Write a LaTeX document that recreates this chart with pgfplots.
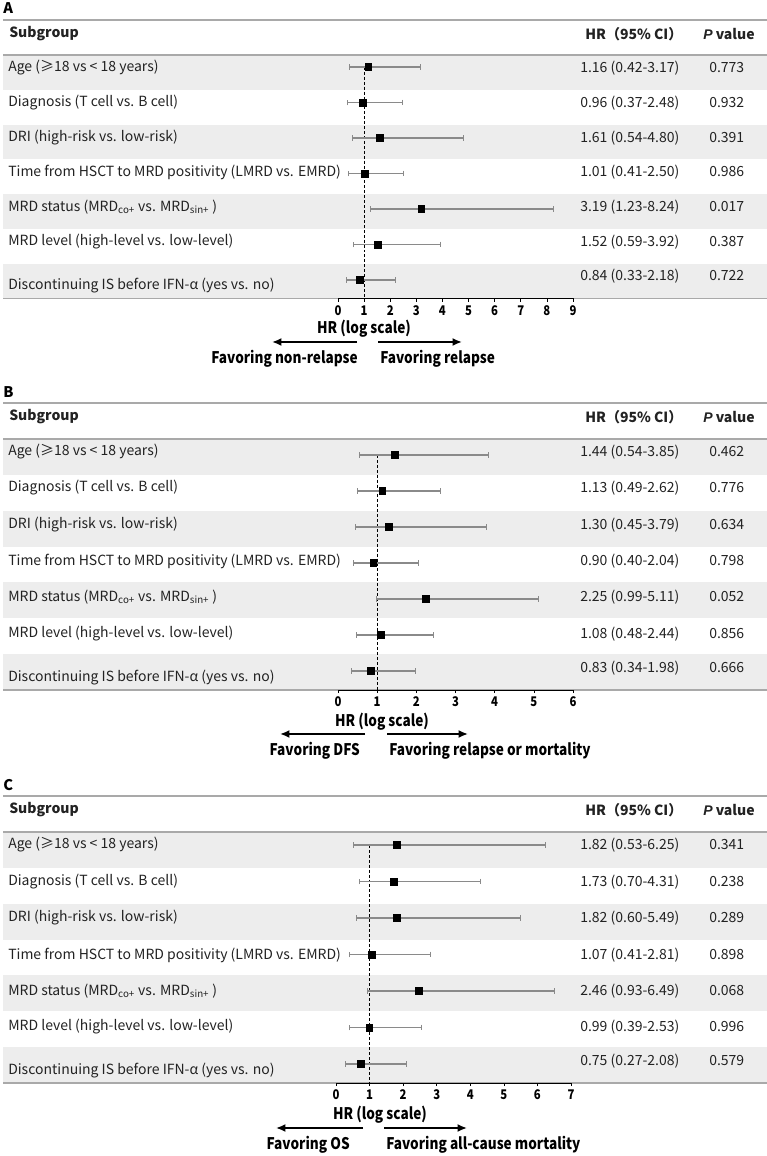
\documentclass[border=0pt]{standalone}
\usepackage{fontspec}
\setmainfont{Noto Sans CJK SC}
\newfontfamily\cond{Noto Sans CJK SC}[FakeStretch=0.85]
\newfontfamily\lib{Liberation Sans}
\usepackage{pgfplots}
\pgfplotsset{compat=1.18}
\usepackage{pgfplotstable}
\usetikzlibrary{arrows.meta}
\definecolor{band}{HTML}{EDEDED}
\definecolor{rule}{HTML}{A9A9A9}
\definecolor{ci}{HTML}{8A8A8A}
\definecolor{txt}{HTML}{222222}

\pgfplotstableread{
row hr lo hi
7 1.16 0.42 3.17
6 0.96 0.37 2.48
5 1.61 0.54 4.80
4 1.01 0.41 2.50
3 3.19 1.23 8.24
2 1.52 0.59 3.92
1 0.84 0.33 2.18
}\dataA
\pgfplotstableread{
row hr lo hi
7 1.44 0.54 3.85
6 1.13 0.49 2.62
5 1.30 0.45 3.79
4 0.90 0.40 2.04
3 2.25 0.99 5.11
2 1.08 0.48 2.44
1 0.83 0.34 1.98
}\dataB
\pgfplotstableread{
row hr lo hi
7 1.82 0.53 6.25
6 1.73 0.70 4.31
5 1.82 0.60 5.49
4 1.07 0.41 2.81
3 2.46 0.93 6.49
2 0.99 0.39 2.53
1 0.75 0.27 2.08
}\dataC

\def\H{1156}
\newcommand\rowfont{\fontsize{10.5}{12}\selectfont\color{txt}}
\newcommand\hdfont{\fontsize{10.5}{12}\selectfont\bfseries\color{txt}}
\newcommand\btfont{\cond\fontsize{12}{13}\selectfont\bfseries}

\pgfplotsset{
  forest/.style={
    scale only axis, width=176.25pt, anchor=south west,
    axis x line=bottom, axis y line=none,
    axis line style={-, black, line width=0.6pt},
    tick align=outside, major tick length=2.3pt,
    tick style={black, line width=0.5pt},
    ytick=\empty, xmin=0, clip=false, enlargelimits=false,
    xticklabel style={font=\cond\bfseries\fontsize{10}{11}\selectfont, yshift=0.5pt},
    /pgf/number format/assume math mode=true,
  },
  fp/.style={only marks, mark=square*, mark size=2.6pt, black,
    error bars/.cd, x dir=both, x explicit,
    error bar style={ci, line width=1.0pt},
    error mark options={rotate=90, mark size=2.2pt, ci, line width=0.5pt}},
}
\tikzset{farrow/.style={line width=1.9pt, -{Latex[length=7pt,width=6pt]}}}

\begin{document}
\begin{tikzpicture}[x=0.75pt, y=0.75pt]
\useasboundingbox (0,0) rectangle (767,\H);

% ================= Panel A =================
\foreach \i in {0,2,4,6} \fill[band] (3,{\H-55-34.79*\i}) rectangle (767,{\H-55-34.79*(\i+1)});
\draw[rule, line width=1.1pt] (3,\H-20) -- (767,\H-20);
\draw[rule, line width=1.1pt] (3,\H-55) -- (767,\H-55);
\draw[rule, line width=1.1pt] (3,\H-298.5) -- (767,\H-298.5);
\node[anchor=west, font=\fontsize{11}{12}\selectfont\bfseries, inner sep=0pt] at (3,\H-8) {A};
\node[anchor=west, font=\hdfont, inner sep=0pt] at (9,\H-34) {Subgroup};
\node[anchor=west, font=\hdfont, inner sep=0pt] at (585,\H-34) {HR（95\% CI）};
\node[anchor=west, font=\hdfont, inner sep=0pt] at (703,\H-34) {{\lib\itshape P} value};
\begin{scope}[every node/.style={anchor=west, font=\rowfont, inner sep=0pt}]
\node at (8,\H-68) {Age (≥18 vs < 18 years)};
\node at (8,\H-103) {Diagnosis (T cell vs. B cell)};
\node at (8,\H-138) {DRI (high-risk vs. low-risk)};
\node at (8,\H-172) {Time from HSCT to MRD positivity (LMRD vs. EMRD)};
\node at (8,\H-207) {MRD status (MRD\textsubscript{co+} vs. MRD\textsubscript{sin+} )};
\node at (8,\H-242) {MRD level (high-level vs. low-level)};
\node at (8,\H-286) {Discontinuing IS before IFN-α (yes vs. no)};
\node at (580,\H-68) {1.16 (0.42-3.17)};
\node at (580,\H-103) {0.96 (0.37-2.48)};
\node at (580,\H-138) {1.61 (0.54-4.80)};
\node at (580,\H-172) {1.01 (0.41-2.50)};
\node at (580,\H-207) {3.19 (1.23-8.24)};
\node at (580,\H-242) {1.52 (0.59-3.92)};
\node at (580,\H-276) {0.84 (0.33-2.18)};
\node at (709,\H-68) {0.773};
\node at (709,\H-103) {0.932};
\node at (709,\H-138) {0.391};
\node at (709,\H-172) {0.986};
\node at (709,\H-207) {0.017};
\node at (709,\H-242) {0.387};
\node at (709,\H-276) {0.722};
\end{scope}
\begin{axis}[forest, at={(253.5pt,643.125pt)}, height=182.6pt, xmax=9, xtick={0,...,9},
  ymin=0.479, ymax=7.338]
\draw[black, line width=0.6pt, dash pattern=on 2.2pt off 1.5pt] (axis cs:1,7) -- (axis cs:1,0.479);
\addplot[fp] table[x=hr, y=row, x error plus expr=\thisrow{hi}-\thisrow{hr}, x error minus expr=\thisrow{hr}-\thisrow{lo}] {\dataA};
\end{axis}
\node[font=\btfont] at (364,\H-329) {HR (log scale)};
\draw[farrow] (357,\H-342) -- (272,\H-342);
\draw[farrow] (378,\H-342) -- (462,\H-342);
\node[font=\btfont, anchor=east, inner sep=0pt] at (358,\H-359) {Favoring non-relapse};
\node[font=\btfont, anchor=west, inner sep=0pt] at (380,\H-359) {Favoring relapse};

% ================= Panel B =================
\foreach \i in {0,2,4,6} \fill[band] (3,{\H-439-35.86*\i}) rectangle (767,{\H-439-35.86*(\i+1)});
\draw[rule, line width=1.1pt] (3,\H-403) -- (767,\H-403);
\draw[rule, line width=1.1pt] (3,\H-439) -- (767,\H-439);
\draw[rule, line width=1.1pt] (3,\H-690) -- (767,\H-690);
\node[anchor=west, font=\fontsize{11}{12}\selectfont\bfseries, inner sep=0pt] at (3,\H-392) {B};
\node[anchor=west, font=\hdfont, inner sep=0pt] at (9,\H-417) {Subgroup};
\node[anchor=west, font=\hdfont, inner sep=0pt] at (585,\H-417) {HR（95\% CI）};
\node[anchor=west, font=\hdfont, inner sep=0pt] at (703,\H-417) {{\lib\itshape P} value};
\begin{scope}[every node/.style={anchor=west, font=\rowfont, inner sep=0pt}]
\node at (8,\H-452) {Age (≥18 vs < 18 years)};
\node at (8,\H-488) {Diagnosis (T cell vs. B cell)};
\node at (8,\H-525) {DRI (high-risk vs. low-risk)};
\node at (8,\H-561) {Time from HSCT to MRD positivity (LMRD vs. EMRD)};
\node at (8,\H-597) {MRD status (MRD\textsubscript{co+} vs. MRD\textsubscript{sin+} )};
\node at (8,\H-634) {MRD level (high-level vs. low-level)};
\node at (8,\H-678) {Discontinuing IS before IFN-α (yes vs. no)};
\node at (580,\H-452) {1.44 (0.54-3.85)};
\node at (580,\H-488) {1.13 (0.49-2.62)};
\node at (580,\H-525) {1.30 (0.45-3.79)};
\node at (580,\H-561) {0.90 (0.40-2.04)};
\node at (580,\H-597) {2.25 (0.99-5.11)};
\node at (580,\H-634) {1.08 (0.48-2.44)};
\node at (580,\H-668) {0.83 (0.34-1.98)};
\node at (709,\H-452) {0.462};
\node at (709,\H-488) {0.776};
\node at (709,\H-525) {0.634};
\node at (709,\H-561) {0.798};
\node at (709,\H-597) {0.052};
\node at (709,\H-634) {0.856};
\node at (709,\H-668) {0.666};
\end{scope}
\begin{axis}[forest, at={(253.5pt,349.5pt)}, height=188.25pt, xmax=6, xtick={0,...,6},
  ymin=0.472, ymax=7.444]
\draw[black, line width=0.6pt, dash pattern=on 2.2pt off 1.5pt] (axis cs:1,7) -- (axis cs:1,0.472);
\addplot[fp] table[x=hr, y=row, x error plus expr=\thisrow{hi}-\thisrow{hr}, x error minus expr=\thisrow{hr}-\thisrow{lo}] {\dataB};
\end{axis}
\node[font=\btfont] at (382,\H-722) {HR (log scale)};
\draw[farrow] (365,\H-734) -- (280,\H-734);
\draw[farrow] (387,\H-734) -- (468,\H-734);
\node[font=\btfont, anchor=east, inner sep=0pt] at (360,\H-751) {Favoring DFS};
\node[font=\btfont, anchor=west, inner sep=0pt] at (389,\H-751) {Favoring relapse or mortality};

% ================= Panel C =================
\foreach \i in {0,2,4,6} \fill[band] (3,{\H-832-35.86*\i}) rectangle (767,{\H-832-35.86*(\i+1)});
\draw[rule, line width=1.1pt] (3,\H-796) -- (767,\H-796);
\draw[rule, line width=1.1pt] (3,\H-832) -- (767,\H-832);
\draw[rule, line width=1.1pt] (3,\H-1083) -- (767,\H-1083);
\node[anchor=west, font=\fontsize{11}{12}\selectfont\bfseries, inner sep=0pt] at (3,\H-785) {C};
\node[anchor=west, font=\hdfont, inner sep=0pt] at (9,\H-810) {Subgroup};
\node[anchor=west, font=\hdfont, inner sep=0pt] at (585,\H-810) {HR（95\% CI）};
\node[anchor=west, font=\hdfont, inner sep=0pt] at (703,\H-810) {{\lib\itshape P} value};
\begin{scope}[every node/.style={anchor=west, font=\rowfont, inner sep=0pt}]
\node at (8,\H-845) {Age (≥18 vs < 18 years)};
\node at (8,\H-882) {Diagnosis (T cell vs. B cell)};
\node at (8,\H-918) {DRI (high-risk vs. low-risk)};
\node at (8,\H-955) {Time from HSCT to MRD positivity (LMRD vs. EMRD)};
\node at (8,\H-991) {MRD status (MRD\textsubscript{co+} vs. MRD\textsubscript{sin+} )};
\node at (8,\H-1027) {MRD level (high-level vs. low-level)};
\node at (8,\H-1071) {Discontinuing IS before IFN-α (yes vs. no)};
\node at (580,\H-845) {1.82 (0.53-6.25)};
\node at (580,\H-882) {1.73 (0.70-4.31)};
\node at (580,\H-918) {1.82 (0.60-5.49)};
\node at (580,\H-955) {1.07 (0.41-2.81)};
\node at (580,\H-991) {2.46 (0.93-6.49)};
\node at (580,\H-1027) {0.99 (0.39-2.53)};
\node at (580,\H-1061) {0.75 (0.27-2.08)};
\node at (709,\H-845) {0.341};
\node at (709,\H-882) {0.238};
\node at (709,\H-918) {0.289};
\node at (709,\H-955) {0.898};
\node at (709,\H-991) {0.068};
\node at (709,\H-1027) {0.996};
\node at (709,\H-1061) {0.579};
\end{scope}
\begin{axis}[forest, at={(252pt,54.75pt)}, height=188.25pt, xmax=7, xtick={0,...,7},
  ymin=0.479, ymax=7.356]
\draw[black, line width=0.6pt, dash pattern=on 2.2pt off 1.5pt] (axis cs:1,7) -- (axis cs:1,0.479);
\addplot[fp] table[x=hr, y=row, x error plus expr=\thisrow{hi}-\thisrow{hr}, x error minus expr=\thisrow{hr}-\thisrow{lo}] {\dataC};
\end{axis}
\node[font=\btfont] at (380,\H-1115) {HR (log scale)};
\draw[farrow] (363,\H-1128) -- (276,\H-1128);
\draw[farrow] (384,\H-1128) -- (467,\H-1128);
\node[font=\btfont, anchor=east, inner sep=0pt] at (350,\H-1145) {Favoring OS};
\node[font=\btfont, anchor=west, inner sep=0pt] at (386,\H-1145) {Favoring all-cause mortality};
\end{tikzpicture}
\end{document}
